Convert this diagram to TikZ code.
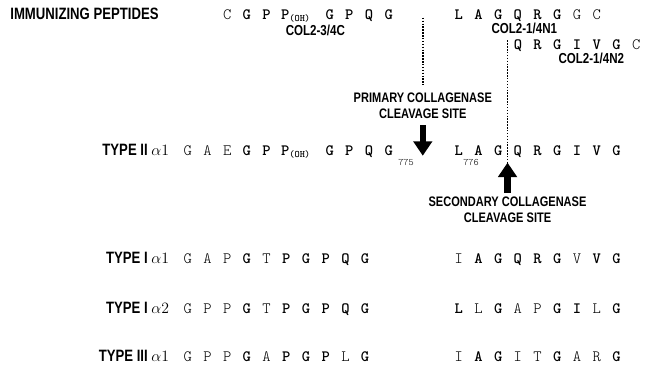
\documentclass[tikz,border=0pt]{standalone}
\usepackage{fontspec}
\usetikzlibrary{arrows.meta}
\newfontfamily\lblfont[FakeStretch=0.8]{Liberation Sans}
\newfontfamily\seqfont{lmmonolt10}[Extension=.otf, UprightFont=*-regular, BoldFont=*-bold]

% residues: conserved (bold) and substituted (light), fixed pitch
\newcommand{\hi}[1]{\makebox[15pt]{\bfseries #1}}
\newcommand{\lo}[1]{\makebox[15pt]{#1}}
\newcommand{\pOH}{\makebox[33pt][l]{\hspace{3.6pt}\bfseries P\raisebox{-1.5pt}{\fontsize{7.5}{7.5}\selectfont(OH)}}}

\tikzset{every picture/.style={line width=0.75pt},
  seq/.style={anchor=base west, inner sep=0pt, font=\seqfont\fontsize{12}{12}\selectfont},
  lbl/.style={anchor=base east, inner sep=0pt, font=\lblfont\bfseries\fontsize{12.5}{12.5}\selectfont},
  pep/.style={anchor=base, inner sep=0pt, font=\lblfont\bfseries\fontsize{11}{11}\selectfont},
  site/.style={anchor=north, align=center, inner sep=0pt, font=\lblfont\bfseries\fontsize{10.5}{12}\selectfont},
  resno/.style={anchor=base, inner sep=0pt, font=\seqfont\fontsize{7.5}{7.5}\selectfont},
  cleave/.style={line width=4.8pt, -{Triangle[width=14pt,length=11pt]}},
  cut/.style={line width=1.1pt, dash pattern=on 1.1pt off 1.1pt}}

\begin{document}
\begin{tikzpicture}[x=0.75pt,y=0.75pt,yscale=-1,xscale=1]
\path (0,0) rectangle (646,372); %set diagram size

% Text Node
\node [anchor=base west, inner sep=0pt, font=\lblfont\bfseries\fontsize{12.5}{12.5}\selectfont] (title) at (10,20) {IMMUNIZING PEPTIDES};

%Peptides
\node [seq] (pepC) at (220,20) {\lo{C}\hi{G}\hi{P}\pOH\hi{G}\hi{P}\hi{Q}\hi{G}};
\node [pep] (pepClbl) at (320,36) {COL2-3/4C};
\node [seq] (pepNa) at (455,20) {\hi{L}\hi{A}\hi{G}\hi{Q}\hi{R}\hi{G}\lo{G}\lo{C}};
\node [pep] (pepNalbl) at (532,34) {COL2-1/4N1};
\node [seq] (pepNb) at (515,50) {\hi{Q}\hi{R}\hi{G}\hi{I}\hi{V}\hi{G}\lo{C}};
\node [pep] (pepNblbl) at (600,64) {COL2-1/4N2};

%Type II alpha1
\node [lbl] (t2a1) at (172,158) {TYPE II {\normalfont\fontsize{13}{13}\selectfont$\alpha1$}};
\node [seq] (t2a1L) at (180,158) {\lo{G}\lo{A}\lo{E}\hi{G}\hi{P}\pOH\hi{G}\hi{P}\hi{Q}\hi{G}};
\node [resno] (n775) at (412,168) {775};
\node [seq] (t2a1R) at (455,158) {\hi{L}\hi{A}\hi{G}\hi{Q}\hi{R}\hi{G}\hi{I}\hi{V}\hi{G}};
\node [resno] (n776) at (478,168) {776};

%Type I alpha1
\node [lbl] (t1a1) at (172,267) {TYPE I {\normalfont\fontsize{13}{13}\selectfont$\alpha1$}};
\node [seq] (t1a1L) at (180,267) {\lo{G}\lo{A}\lo{P}\hi{G}\lo{T}\hi{P}\hi{G}\hi{P}\hi{Q}\hi{G}};
\node [seq] (t1a1R) at (455,267) {\lo{I}\hi{A}\hi{G}\hi{Q}\hi{R}\hi{G}\lo{V}\hi{V}\hi{G}};

%Type I alpha2
\node [lbl] (t1a2) at (172,318) {TYPE I {\normalfont\fontsize{13}{13}\selectfont$\alpha2$}};
\node [seq] (t1a2L) at (180,318) {\lo{G}\lo{P}\lo{P}\hi{G}\lo{T}\hi{P}\hi{G}\hi{P}\hi{Q}\hi{G}};
\node [seq] (t1a2R) at (455,318) {\hi{L}\lo{L}\hi{G}\lo{A}\lo{P}\hi{G}\hi{I}\lo{L}\hi{G}};

%Type III alpha1
\node [lbl] (t3a1) at (172,367) {TYPE III {\normalfont\fontsize{13}{13}\selectfont$\alpha1$}};
\node [seq] (t3a1L) at (180,367) {\lo{G}\lo{P}\lo{P}\hi{G}\lo{A}\hi{P}\hi{G}\hi{P}\lo{L}\hi{G}};
\node [seq] (t3a1R) at (455,367) {\lo{I}\hi{A}\hi{G}\lo{I}\lo{T}\hi{G}\lo{A}\lo{R}\hi{G}};

%Cleavage sites
\node [site] (primlbl) at (429,94) {PRIMARY COLLAGENASE\\CLEAVAGE SITE};
\node [site] (seclbl) at (515,199) {SECONDARY COLLAGENASE\\CLEAVAGE SITE};
\coordinate (primtop) at (429,18);
\coordinate (primtip) at (429,158);
\coordinate (sectop) at (515,41);
\coordinate (sectip) at (515,165);

% Connection
\draw [cut, shorten >=6pt] (primtop) -- (primlbl.north);
\draw [cleave, shorten <=4.5pt] (primlbl.south) -- (primtip);
\draw [cut] (sectop) -- (sectip);
\draw [cleave, shorten <=2.2pt] (seclbl.north) -- (sectip);

\end{tikzpicture}
\end{document}
